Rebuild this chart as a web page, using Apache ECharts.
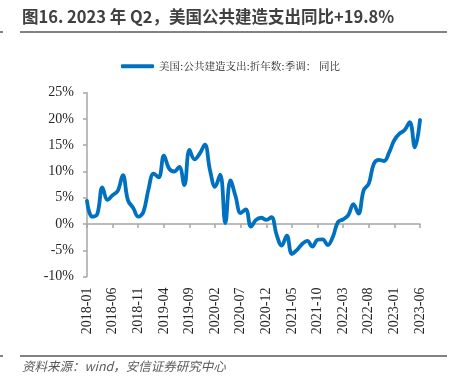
<!DOCTYPE html>
<html>
<head>
<meta charset="utf-8">
<script src="https://cdn.jsdelivr.net/npm/echarts@6/dist/echarts.min.js"></script>
<style>
html,body{margin:0;padding:0;background:#fff;}
#c{width:454px;height:389px;}
</style>
</head>
<body>
<div id="c"></div>
<script>
var titleText = '图16. 2023 年 Q2，美国公共建造支出同比+19.8%';
var sourceText = '资料来源：wind，安信证券研究中心';
var seriesName = '美国:公共建造支出:折年数:季调： 同比';
var months = [
  '2018-01','2018-02','2018-03','2018-04','2018-05','2018-06','2018-07','2018-08','2018-09','2018-10','2018-11','2018-12',
  '2019-01','2019-02','2019-03','2019-04','2019-05','2019-06','2019-07','2019-08','2019-09','2019-10','2019-11','2019-12',
  '2020-01','2020-02','2020-03','2020-04','2020-05','2020-06','2020-07','2020-08','2020-09','2020-10','2020-11','2020-12',
  '2021-01','2021-02','2021-03','2021-04','2021-05','2021-06','2021-07','2021-08','2021-09','2021-10','2021-11','2021-12',
  '2022-01','2022-02','2022-03','2022-04','2022-05','2022-06','2022-07','2022-08','2022-09','2022-10','2022-11','2022-12',
  '2023-01','2023-02','2023-03','2023-04','2023-05','2023-06'
];
var yoy = [
  4.4, 1.4, 1.9, 7.0, 4.6, 5.5, 6.3, 9.3, 4.5, 3.1, 1.4, 2.3,
  6.6, 9.6, 8.9, 13.0, 10.6, 10.0, 10.9, 7.4, 14.1, 12.3, 13.4, 15.1,
  10.3, 7.1, 9.4, 0.2, 8.3, 5.3, 2.1, 2.8, -0.5, 0.8, 1.2, 0.8,
  1.3, -2.0, -4.1, -2.2, -5.7, -4.9, -3.8, -3.2, -4.3, -3.0, -2.9, -4.0,
  -2.4, 0.4, 0.9, 1.7, 3.8, 2.0, 6.4, 7.7, 11.5, 12.2, 12.0, 13.7,
  16.0, 17.2, 17.9, 19.4, 14.6, 19.8
];
var yTicks = { min: -10, max: 25, interval: 5 };

var chart = echarts.init(document.getElementById('c'), null, {renderer: 'canvas'});
var data = yoy.map(function (v, i) {
  if (i === yoy.length - 1) {
    return { value: v, label: { show: true, position: 'top', distance: 13,
      formatter: function (p) { return p.value.toFixed(1) + '%'; },
      fontFamily: 'Liberation Serif', fontSize: 15, color: '#262626' } };
  }
  return v;
});
var axisGray = '#a6a6a6';
var option = {
  animation: false,
  backgroundColor: '#fff',
  grid: { left: 87, right: 34, top: 92.7, bottom: 112.4, containLabel: false },
  legend: {
    data: [seriesName], left: 116, top: 56,
    itemWidth: 33, itemHeight: 4, icon: 'roundRect', itemGap: 4,
    textStyle: { fontFamily: 'Noto Serif CJK SC, Noto Sans CJK SC', fontSize: 10.5, color: '#262626' }
  },
  xAxis: [
    {
      type: 'category', data: months, boundaryGap: false, position: 'bottom',
      axisLine: { show: false, onZero: false },
      axisTick: { show: false },
      axisLabel: { interval: 4, rotate: 90, margin: 11, fontFamily: 'Liberation Serif', fontSize: 14, color: '#262626' }
    },
    {
      type: 'category', data: months, boundaryGap: false, position: 'bottom',
      axisLine: { show: true, onZero: true, lineStyle: { color: axisGray, width: 1.5 } },
      axisTick: { show: true, interval: 4, inside: false, length: 4, lineStyle: { color: axisGray, width: 1.5 } },
      axisLabel: { show: false }
    }
  ],
  yAxis: {
    type: 'value', min: yTicks.min, max: yTicks.max, interval: yTicks.interval,
    splitLine: { show: false },
    axisLine: { show: true, lineStyle: { color: axisGray, width: 1.5 } },
    axisTick: { show: true, length: 4, lineStyle: { color: axisGray, width: 1.5 } },
    axisLabel: { formatter: '{value}%', margin: 13, fontFamily: 'Liberation Serif', fontSize: 14, color: '#262626' }
  },
  series: [{
    name: seriesName, type: 'line', xAxisIndex: 0, data: data,
    smooth: 0.4, symbol: 'none', showSymbol: false,
    lineStyle: { color: '#0070C0', width: 3.8, cap: 'round', join: 'round' },
    itemStyle: { color: '#0070C0' },
    z: 3
  }],
  graphic: [
    { type: 'text', left: 22, top: 8, style: { text: titleText, font: 'bold 16.5px "Noto Sans CJK SC"', fill: '#404040' } },
    { type: 'line', shape: { x1: 20, y1: 32, x2: 447, y2: 32 }, style: { stroke: '#595959', lineWidth: 1.5 } },
    { type: 'line', shape: { x1: 0, y1: 32, x2: 3, y2: 32 }, style: { stroke: '#595959', lineWidth: 1.5 } },
    { type: 'line', shape: { x1: 20, y1: 356, x2: 447, y2: 356 }, style: { stroke: '#595959', lineWidth: 1.5 } },
    { type: 'line', shape: { x1: 0, y1: 356, x2: 3, y2: 356 }, style: { stroke: '#595959', lineWidth: 1.5 } },
    { type: 'text', left: 22, top: 360, style: { text: sourceText, font: 'italic 12.5px "Noto Sans CJK SC"', fill: '#595959' } }
  ]
};
chart.setOption(option);
</script>
</body>
</html>
